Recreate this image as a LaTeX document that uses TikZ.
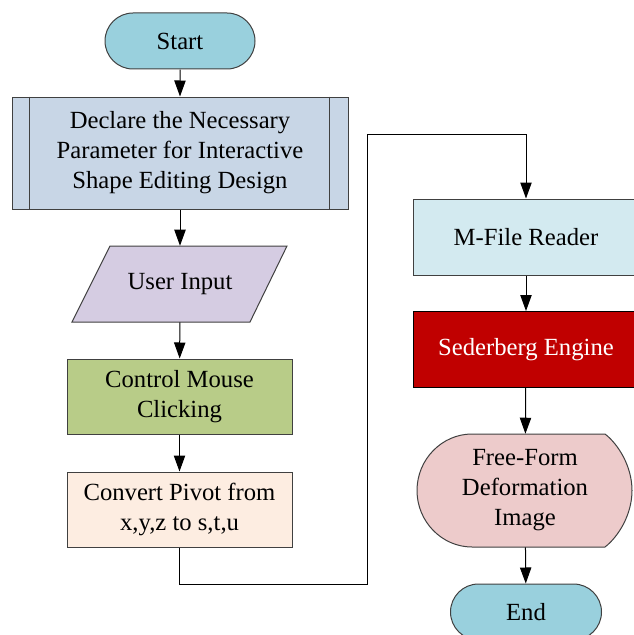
\documentclass[tikz,border=0pt]{standalone}
\usepackage{fontspec}
\setmainfont{Liberation Serif}
\usetikzlibrary{arrows.meta,shapes.misc}
\definecolor{termc}{HTML}{99D0DD}
\definecolor{declc}{HTML}{C8D6E6}
\definecolor{userc}{HTML}{D5CCE2}
\definecolor{ctrlc}{HTML}{B8CC88}
\definecolor{convc}{HTML}{FDEDE1}
\definecolor{mfilec}{HTML}{D3EAF0}
\definecolor{sedc}{HTML}{C00000}
\definecolor{ffc}{HTML}{EDCBCB}
\definecolor{edgec}{HTML}{404040}
\begin{document}
\begin{tikzpicture}[x=0.75pt,y=-0.75pt,
  every node/.style={font=\fontsize{18.5}{22.5}\selectfont, align=center, inner sep=0pt},
  box/.style={draw=edgec, line width=0.75pt, rectangle},
  term/.style={draw=edgec, line width=0.75pt, rounded rectangle, fill=termc, minimum width=112.5pt, minimum height=42pt},
  shapeln/.style={draw=edgec, line width=0.75pt},
  conn/.style={draw=black, line width=0.75pt},
  arr/.style={conn, -{Triangle[length=12pt,width=8.5pt]}}]
\useasboundingbox (0,0) rectangle (634,635);
\clip (0,0) rectangle (634,635);
% nodes
\node[term] (start) at (180,41) {Start};
\node[box, fill=declc, minimum width=252pt, minimum height=84pt] (decl) at (180,153)
  {Declare the Necessary\\Parameter for Interactive\\Shape Editing Design};
\draw[shapeln] ([xshift=13.5pt]decl.north west) -- ([xshift=13.5pt]decl.south west);
\draw[shapeln] ([xshift=-14.25pt]decl.north east) -- ([xshift=-14.25pt]decl.south east);
\draw[shapeln, fill=userc] (110,246) -- (287,246) -- (250,322) -- (72,322) -- cycle;
\node[minimum width=133.5pt, minimum height=57pt] (user) at (180,284) {User Input};
\node[box, fill=ctrlc, minimum width=168.75pt, minimum height=56.25pt] (ctrl) at (179.5,396.5)
  {Control Mouse\\Clicking};
\node[box, fill=convc, minimum width=168.75pt, minimum height=56.25pt] (conv) at (179.5,509.5)
  {Convert Pivot from\\x,y,z to s,t,u};
\node[box, fill=mfilec, minimum width=169.5pt, minimum height=57pt] (mfile) at (526,237)
  {M-File Reader};
\node[box, draw=black, fill=sedc, text=white, minimum width=169.5pt, minimum height=57pt] (sed) at (526,349.5)
  {Sederberg Engine};
\draw[shapeln, fill=ffc] (472,434) -- (605,434)
  .. controls (618,444) and (632,466) .. (632,490.5)
  .. controls (632,515) and (618,537) .. (605,547)
  -- (472,547)
  .. controls (442,547) and (417,521.7) .. (417,490.5)
  .. controls (417,459.3) and (442,434) .. (472,434) -- cycle;
\node[minimum width=150pt, minimum height=84.75pt] (ff) at (525,490.5)
  {Free-Form\\Deformation\\Image};
\node[term, minimum width=113.25pt] (end) at (526,612) {End};
% connectors
\coordinate (c1) at (367,584);
\coordinate (c2) at (367,134);
\draw[arr] (start) -- (decl);
\draw[arr] (decl) -- (user);
\draw[arr] (user) -- (ctrl);
\draw[arr] (ctrl) -- (conv);
\draw[arr] (conv.south) |- (c1) -- (c2) -| (mfile.north);
\draw[arr] (mfile) -- (sed);
\draw[arr] (sed) -- (ff);
\draw[arr] (ff) -- (end);
\end{tikzpicture}
\end{document}
